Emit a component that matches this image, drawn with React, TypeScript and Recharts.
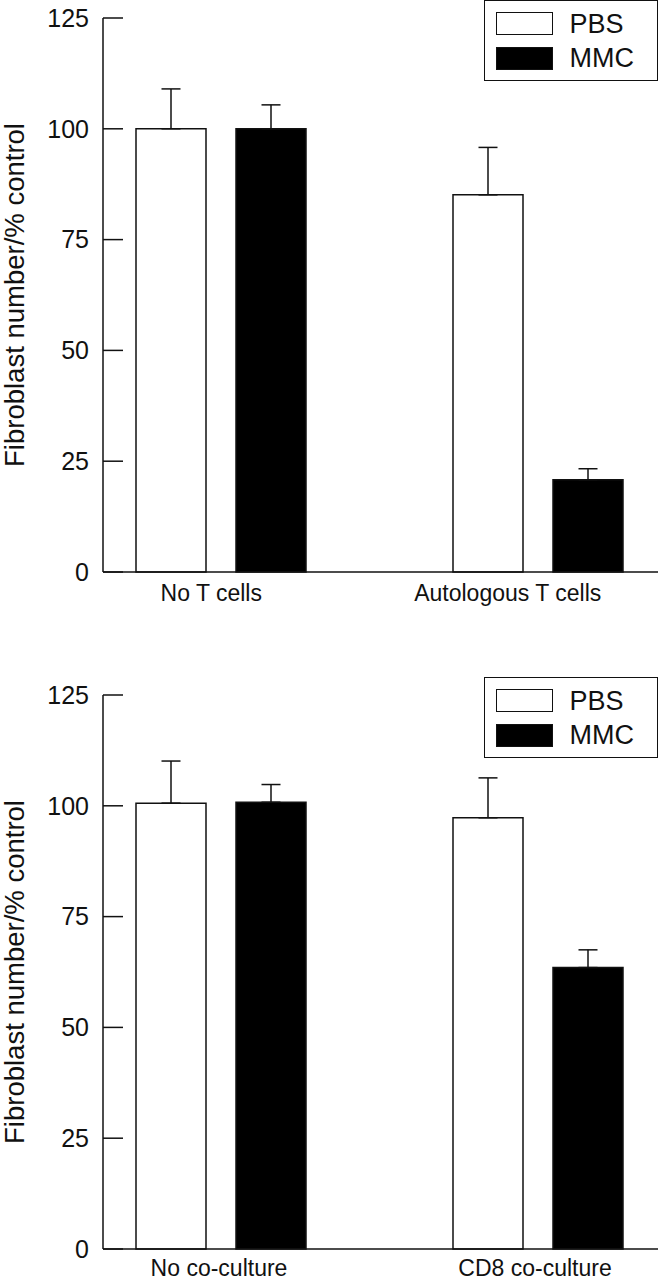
import React from 'react';
import { BarChart, Bar, XAxis, YAxis, ErrorBar, Legend, Label } from 'recharts';

const FONT = '"Liberation Sans", Arial, sans-serif';
const INK = '#111111';

const yTicks = [0, 25, 50, 75, 100, 125];
const seriesNames = ['PBS', 'MMC'];
const seriesFills = ['#ffffff', '#000000'];
const yLabel = 'Fibroblast number/% control';

const topCategories = ['No T cells', 'Autologous T cells'];
const topPBS = [100, 85.1];
const topPBSErr = [9, 10.7];
const topMMC = [100, 20.8];
const topMMCErr = [5.4, 2.5];

const bottomCategories = ['No co-culture', 'CD8 co-culture'];
const bottomPBS = [100.6, 97.3];
const bottomPBSErr = [9.5, 9];
const bottomMMC = [100.8, 63.5];
const bottomMMCErr = [4, 4];

type PanelProps = {
  categories: string[];
  pbs: number[];
  pbsErr: number[];
  mmc: number[];
  mmcErr: number[];
  marginTop: number;
  marginBottom: number;
  xAxisHeight: number;
  tickMargin: number;
  labelPadding: { left: number; right: number };
  legendTop: number;
};

const renderLegend = (props: any) => {
  const payload = [...(props.payload || [])].sort(
    (a: any, b: any) => seriesNames.indexOf(a.value) - seriesNames.indexOf(b.value)
  );
  return (
    <div
      style={{
        width: 174,
        height: 81,
        boxSizing: 'border-box',
        border: `1.5px solid ${INK}`,
        position: 'relative',
        background: '#fff',
      }}
    >
      {payload.map((e: any, i: number) => (
        <div
          key={i}
          style={{
            position: 'absolute',
            left: 10.5,
            top: i === 0 ? 10.5 : 45,
            height: 24,
            display: 'flex',
            alignItems: 'center',
          }}
        >
          <div
            style={{
              width: 57,
              height: 23,
              boxSizing: 'border-box',
              border: `1.5px solid ${INK}`,
              background: seriesFills[seriesNames.indexOf(e.value)],
            }}
          />
          <span
            style={{
              marginLeft: 17,
              fontSize: 27,
              fontFamily: FONT,
              color: INK,
              lineHeight: '24px',
            }}
          >
            {e.value}
          </span>
        </div>
      ))}
    </div>
  );
};

const renderYLabel = (props: any) => {
  const vb = props.viewBox || {};
  const cy = (vb.y || 0) + (vb.height || 0) / 2;
  const x = 24;
  return (
    <text
      x={x}
      y={cy}
      transform={`rotate(-90 ${x} ${cy})`}
      textAnchor="middle"
      fontSize={27.5}
      fontFamily={FONT}
      fill={INK}
    >
      {yLabel}
    </text>
  );
};

function Panel(p: PanelProps) {
  const rows = p.categories.map((c, i) => ({
    category: c,
    PBS: p.pbs[i],
    pbsErr: [0, p.pbsErr[i]],
    MMC: p.mmc[i],
    mmcErr: [0, p.mmcErr[i]],
  }));
  return (
    <BarChart
      width={658}
      height={640}
      data={rows}
      margin={{ top: p.marginTop, right: 0, left: 0, bottom: p.marginBottom }}
      barSize={70}
      barGap={30}
    >
      <XAxis
        xAxisId="bars"
        dataKey="category"
        hide
        height={0}
        padding={{ left: -41, right: -38 }}
      />
      <XAxis
        xAxisId="labels"
        dataKey="category"
        padding={p.labelPadding}
        height={p.xAxisHeight}
        tickLine={false}
        tickSize={0}
        tickMargin={p.tickMargin}
        interval={0}
        axisLine={{ stroke: INK, strokeWidth: 1.5 }}
        tick={{ fill: INK, fontSize: 23, fontFamily: FONT }}
      />
      <YAxis
        domain={[0, 125]}
        ticks={yTicks}
        interval={0}
        width={103}
        tickSize={-20}
        tickMargin={34}
        axisLine={{ stroke: INK, strokeWidth: 1.5 }}
        tickLine={{ stroke: INK, strokeWidth: 1.5 }}
        tick={{ fill: INK, fontSize: 25, fontFamily: FONT }}
      >
        <Label content={renderYLabel} />
      </YAxis>
      <Legend
        layout="vertical"
        align="center"
        verticalAlign="middle"
        content={renderLegend}
        wrapperStyle={{ top: p.legendTop, left: 484, width: 174, height: 81 }}
      />
      <Bar
        xAxisId="bars"
        dataKey="PBS"
        name="PBS"
        fill={seriesFills[0]}
        stroke={INK}
        strokeWidth={1.5}
        isAnimationActive={false}
      >
        <ErrorBar dataKey="pbsErr" direction="y" width={9.5} stroke={INK} strokeWidth={1.5} />
      </Bar>
      <Bar
        xAxisId="bars"
        dataKey="MMC"
        name="MMC"
        fill={seriesFills[1]}
        stroke={INK}
        strokeWidth={1.5}
        isAnimationActive={false}
      >
        <ErrorBar dataKey="mmcErr" direction="y" width={9.5} stroke={INK} strokeWidth={1.5} />
      </Bar>
    </BarChart>
  );
}

export default function App() {
  return (
    <div
      style={{
        position: 'absolute',
        left: 0,
        top: 0,
        width: 658,
        height: 1280,
        background: '#fff',
        fontFamily: FONT,
      }}
    >
      <Panel
        categories={topCategories}
        pbs={topPBS}
        pbsErr={topPBSErr}
        mmc={topMMC}
        mmcErr={topMMCErr}
        marginTop={18}
        marginBottom={28}
        xAxisHeight={40}
        tickMargin={13}
        labelPadding={{ left: -40, right: 2 }}
        legendTop={0}
      />
      <Panel
        categories={bottomCategories}
        pbs={bottomPBS}
        pbsErr={bottomPBSErr}
        mmc={bottomMMC}
        mmcErr={bottomMMCErr}
        marginTop={55}
        marginBottom={0}
        xAxisHeight={31}
        tickMargin={11}
        labelPadding={{ left: -42, right: -35 }}
        legendTop={37}
      />
    </div>
  );
}
